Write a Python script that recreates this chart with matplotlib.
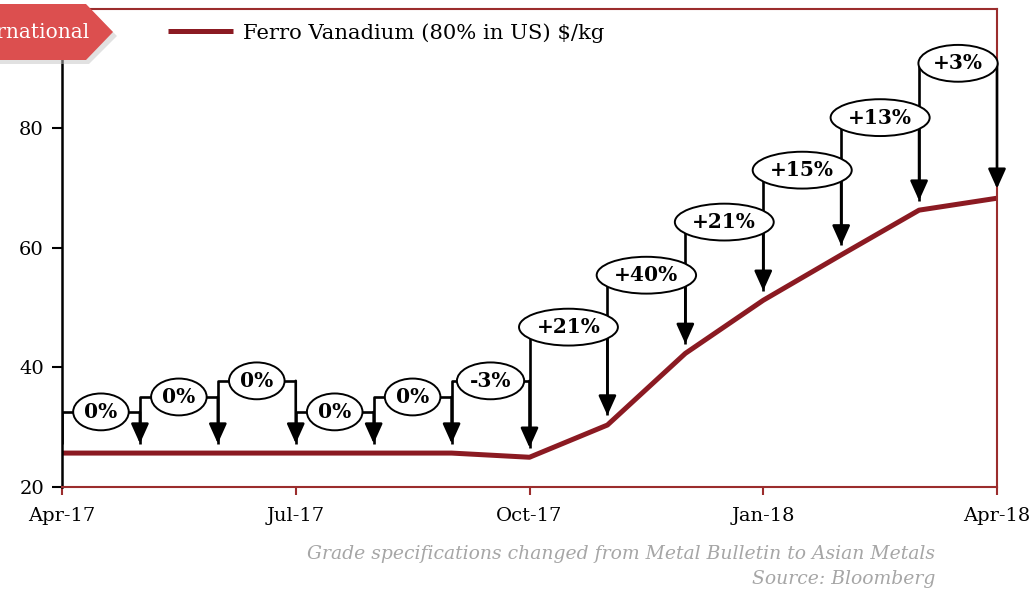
import matplotlib
matplotlib.use("Agg")
import matplotlib.pyplot as plt
from matplotlib.patches import Polygon

# --- datos ---
months = ["Apr-17", "May-17", "Jun-17", "Jul-17", "Aug-17", "Sep-17", "Oct-17",
          "Nov-17", "Dec-17", "Jan-18", "Feb-18", "Mar-18", "Apr-18"]
price = [25.6, 25.6, 25.6, 25.6, 25.6, 25.6, 24.9, 30.3, 42.3, 51.2, 58.8, 66.3, 68.3]
changes = ["0%", "0%", "0%", "0%", "0%", "-3%", "+21%", "+40%", "+21%", "+15%", "+13%", "+3%"]
levels = [32.5, 35.0, 37.7, 32.5, 35.0, 37.7, 46.7, 55.4, 64.3, 73.0, 81.8, 90.9]
tick_idx = [0, 3, 6, 9, 12]

plt.rcParams["font.family"] = "DejaVu Serif"
W, H = 1029, 590
LINE = "#8b1a22"
FRAME = "#9b2d2d"

fig = plt.figure(figsize=(W / 100, H / 100), dpi=100)
ax = fig.add_axes([62 / W, 1 - 486.5 / H, (997 - 62) / W, (486.5 - 9) / H])

x = list(range(len(months)))
ax.plot(x, price, color=LINE, lw=3.6, solid_capstyle="butt", zorder=2,
        label="Ferro Vanadium (80% in US) $/kg")
ax.set_xlim(0, 12)
ax.set_ylim(20, 100)
ax.set_yticks([20, 40, 60, 80])
ax.set_xticks(tick_idx)
ax.set_xticklabels([months[i] for i in tick_idx])
ax.tick_params(axis="y", length=7, width=1.5, color="black", labelsize=14, pad=6)
ax.tick_params(axis="x", length=6, width=1.5, color=FRAME, labelsize=14, pad=9)
for s in ("top", "right", "bottom"):
    ax.spines[s].set_color(FRAME)
    ax.spines[s].set_linewidth(1.5)
ax.spines["left"].set_color("black")
ax.spines["left"].set_linewidth(1.8)

# --- flechas de variación mensual ---
off = 1.6
for i, lab in enumerate(changes):
    x0, x1 = i, i + 1
    lv = levels[i]
    ax.plot([x0, x0, x1], [price[x0] + off, lv, lv], color="black", lw=1.9, zorder=3,
            solid_capstyle="butt")
    ax.annotate("", xy=(x1, price[x1] + off), xytext=(x1, lv),
                arrowprops=dict(arrowstyle="-|>,head_length=0.6,head_width=0.27",
                                color="black", lw=1.9, mutation_scale=20,
                                shrinkA=0, shrinkB=0), zorder=3)
    ax.text((x0 + x1) / 2, lv, lab, ha="center", va="center", fontsize=14.5,
            fontweight="bold", zorder=4,
            bbox=dict(boxstyle="ellipse,pad=0.15", fc="white", ec="black", lw=1.4))

ax.legend(loc="center left", bbox_to_anchor=(168 / W, 1 - 33 / H),
          bbox_transform=fig.transFigure, frameon=False, fontsize=15.2,
          handlelength=3.1, handletextpad=0.45, borderpad=0, borderaxespad=0)

# --- etiqueta roja arriba a la izquierda ---
def px(xp, yp):
    return (xp / W, 1 - yp / H)

shadow = Polygon([px(0, 8), px(89, 8), px(117, 36), px(89, 64), px(0, 64)],
                 closed=True, transform=fig.transFigure, fc="#c4c4c4", ec="none",
                 alpha=0.5, zorder=5)
tag = Polygon([px(0, 4), px(86, 4), px(113, 32), px(86, 60), px(0, 60)],
              closed=True, transform=fig.transFigure, fc="#dc4f4f", ec="none", zorder=6)
fig.add_artist(shadow)
fig.add_artist(tag)
fig.text(90 / W, 1 - 33 / H, "International", color="white", fontsize=14.5,
         ha="right", va="center", zorder=7)

# --- notas al pie ---
fig.text(935 / W, 1 - 554 / H,
         "Grade specifications changed from Metal Bulletin to Asian Metals",
         ha="right", va="center", style="italic", color="#a6a6a6", fontsize=13.5)
fig.text(935 / W, 1 - 579 / H, "Source: Bloomberg", ha="right", va="center",
         style="italic", color="#a6a6a6", fontsize=13.5)

fig.savefig("out.png", dpi=100)
